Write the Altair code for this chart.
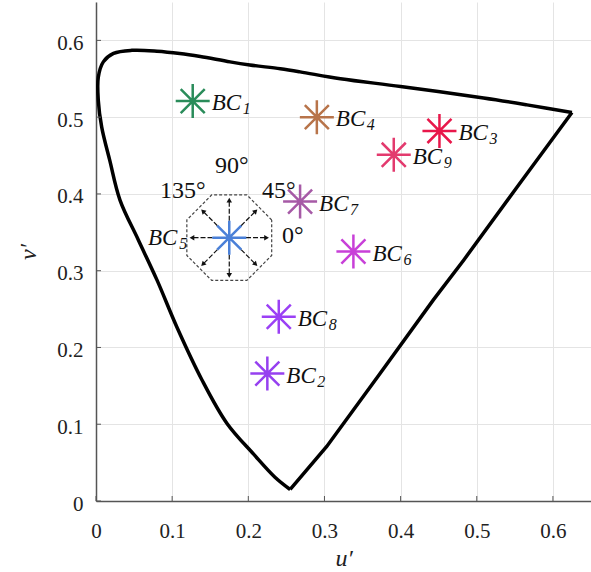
import altair as alt
import pandas as pd
import numpy as np

# ---- spectral locus (u', v') ----
# smooth part: from the violet vertex up the left side and along the top to the red corner
arc_u = [0.255, 0.235, 0.207, 0.172, 0.139, 0.106, 0.080, 0.0556, 0.0315, 0.018,
         0.0075, 0.003, 0.003, 0.0096, 0.023, 0.047, 0.080, 0.110, 0.137, 0.176,
         0.202, 0.242, 0.268, 0.321, 0.400, 0.509, 0.566, 0.625]
arc_v = [0.015, 0.031, 0.061, 0.101, 0.158, 0.227, 0.288, 0.340, 0.392, 0.444,
         0.487, 0.522, 0.552, 0.572, 0.583, 0.587, 0.586, 0.583, 0.579, 0.572,
         0.568, 0.563, 0.559, 0.550, 0.540, 0.525, 0.516, 0.506]
# straight part: from the red corner back down to the violet vertex
side_u = [0.625, 0.553, 0.483, 0.443, 0.373, 0.303, 0.255]
side_v = [0.506, 0.409, 0.314, 0.262, 0.166, 0.071, 0.015]

# ---- BC points ----
bc_names = ["1", "2", "3", "4", "5", "6", "7", "8", "9"]
bc_u = [0.127, 0.225, 0.451, 0.290, 0.175, 0.338, 0.268, 0.240, 0.391]
bc_v = [0.521, 0.166, 0.482, 0.500, 0.343, 0.325, 0.390, 0.240, 0.451]
bc_colors = ["#2a8c5a", "#9640f0", "#e8174a", "#b8744a", "#4a80d8",
             "#c840d8", "#a65aa6", "#9b40f5", "#e33a6e"]

# ---- angle annotations around BC5 ----
ang_text = ["90°", "135°", "45°", "0°"]
ang_u = [0.1564, 0.0841, 0.218, 0.2444]
ang_v = [0.427, 0.3945, 0.3945, 0.336]

# axis ticks
tick_vals = [0, 0.1, 0.2, 0.3, 0.4, 0.5, 0.6]

# octagon + arrows around BC5 (derived from BC5 centre)
oct_R = 0.0603
arrow_r1, arrow_r2 = 0.022, 0.049
cu, cv = bc_u[4], bc_v[4]

arc = pd.DataFrame({"u": arc_u, "v": arc_v, "i": range(len(arc_u))})
side = pd.DataFrame({"u": side_u, "v": side_v, "i": range(len(side_u))})
bc = pd.DataFrame({"u": bc_u, "v": bc_v, "name": bc_names})
ang = pd.DataFrame({"u": ang_u, "v": ang_v, "t": ang_text})

oa = np.deg2rad(22.5 + 45 * np.arange(9))
octagon = pd.DataFrame({"u": cu + oct_R * np.cos(oa), "v": cv + oct_R * np.sin(oa),
                        "i": range(9)})
th = np.arange(0, 360, 45)
arrows = pd.DataFrame({
    "u": cu + arrow_r1 * np.cos(np.deg2rad(th)),
    "v": cv + arrow_r1 * np.sin(np.deg2rad(th)),
    "u2": cu + arrow_r2 * np.cos(np.deg2rad(th)),
    "v2": cv + arrow_r2 * np.sin(np.deg2rad(th)),
    "rot": (90 - th) % 360,
})
ticks = pd.DataFrame({"t": tick_vals})

SERIF = "Liberation Serif"
DOM = [0, 0.65]
ax_x = alt.Axis(values=tick_vals, title="u′", grid=True, gridColor="#e4e4e4",
                ticks=False, tickSize=0, labelPadding=19, labelFlush=False,
                labelFont=SERIF, labelFontSize=21, labelColor="#222",
                titleFont=SERIF, titleFontSize=24, titleFontStyle="italic",
                titleFontWeight="normal", titleColor="#222",
                titleX=247.5, titleY=57, titleBaseline="middle",
                domainColor="#555", domainWidth=1.5, format="~g")
ax_y = alt.Axis(values=tick_vals, title="v′", grid=True, gridColor="#e4e4e4",
                ticks=False, tickSize=0, labelPadding=13, labelFlush=False,
                labelOffset=3,
                labelFont=SERIF, labelFontSize=21, labelColor="#222",
                titleFont=SERIF, titleFontSize=24, titleFontStyle="italic",
                titleFontWeight="normal", titleColor="#222",
                titleX=-68, titleY=249.5, titleBaseline="middle",
                domainColor="#555", domainWidth=1.5, format="~g")
sx = alt.Scale(domain=DOM, nice=False, zero=False)
sy = alt.Scale(domain=DOM, nice=False, zero=False)


def X(f):
    return alt.X(f, type="quantitative", scale=sx, axis=ax_x)


def Y(f):
    return alt.Y(f, type="quantitative", scale=sy, axis=ax_y)


color = alt.Color("name:N", scale=alt.Scale(domain=bc_names, range=bc_colors), legend=None)

curve_arc = alt.Chart(arc).mark_line(color="black", strokeWidth=3.5,
                                     interpolate="catmull-rom").encode(
    x=X("u"), y=Y("v"), order="i:Q")
curve_side = alt.Chart(side).mark_line(color="black", strokeWidth=3.5,
                                       strokeJoin="miter").encode(
    x=X("u"), y=Y("v"), order="i:Q")

ytick = alt.Chart(ticks).mark_rule(color="#555", strokeWidth=1).encode(
    y=Y("t"), x=alt.value(0), x2=alt.value(5))
xtick = alt.Chart(ticks).mark_rule(color="#555", strokeWidth=1).encode(
    x=X("t"), y=alt.value(499), y2=alt.value(494))

oct_line = alt.Chart(octagon).mark_line(color="#444", strokeWidth=1.2, strokeDash=[3, 2]).encode(
    x=X("u"), y=Y("v"), order="i:Q")
arrow_lines = alt.Chart(arrows).mark_rule(color="#111", strokeWidth=1.2, strokeDash=[5, 2]).encode(
    x=X("u"), y=Y("v"), x2="u2", y2="v2")
arrow_heads = alt.Chart(arrows).mark_point(shape="triangle-up", filled=True, color="#111",
                                           size=30, opacity=1).encode(
    x=X("u2"), y=Y("v2"), angle=alt.Angle("rot:Q", scale=None))

STAR = "M-1,0L1,0M0,-1L0,1M-0.707,-0.707L0.707,0.707M-0.707,0.707L0.707,-0.707"
stars = alt.Chart(bc).mark_point(shape=STAR, size=1156, filled=False, strokeWidth=2.5,
                                 opacity=1).encode(x=X("u"), y=Y("v"), color=color)

bc_main = alt.Chart(bc).transform_filter("datum.name != '5'")
lab_bc = bc_main.mark_text(text="BC", font=SERIF, fontSize=23, fontStyle="italic",
                           align="left", baseline="alphabetic", dx=19, dy=9, color="#111").encode(
    x=X("u"), y=Y("v"))
lab_sub = bc_main.mark_text(font=SERIF, fontSize=16, fontStyle="italic",
                            align="left", baseline="alphabetic", dx=50, dy=13, color="#111").encode(
    x=X("u"), y=Y("v"), text="name:N")

bc5 = alt.Chart(bc).transform_filter("datum.name == '5'")
lab5_bc = bc5.mark_text(text="BC", font=SERIF, fontSize=23, fontStyle="italic",
                        align="right", baseline="alphabetic", dx=-52, dy=7, color="#111").encode(
    x=X("u"), y=Y("v"))
lab5_sub = bc5.mark_text(font=SERIF, fontSize=16, fontStyle="italic",
                         align="right", baseline="alphabetic", dx=-42, dy=11, color="#111").encode(
    x=X("u"), y=Y("v"), text="name:N")

ang_lab = alt.Chart(ang).mark_text(font=SERIF, fontSize=24, align="left",
                                   baseline="alphabetic", color="#111").encode(
    x=X("u"), y=Y("v"), text="t:N")

chart = alt.layer(curve_arc, curve_side, ytick, xtick, oct_line, arrow_lines, arrow_heads,
                  stars, lab_bc, lab_sub, lab5_bc, lab5_sub, ang_lab).properties(
    width=495, height=499, autosize="none",
    padding={"left": 96, "top": 2, "right": 0, "bottom": 71},
    background="white",
).configure_view(stroke=None)

chart.save("out.html", embed_options={"renderer": "svg", "actions": False})
